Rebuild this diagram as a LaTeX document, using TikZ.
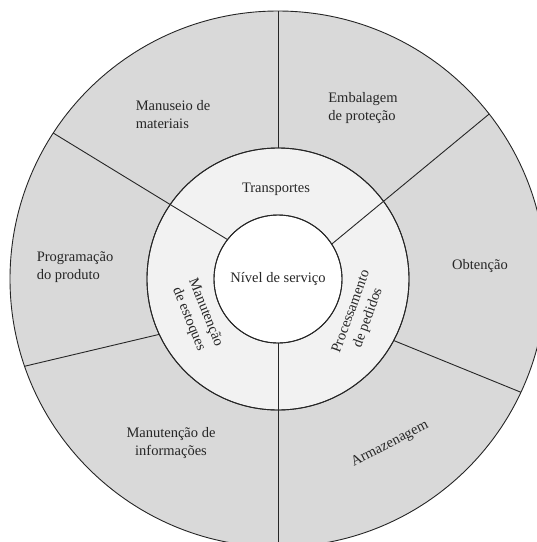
\documentclass[tikz,border=0pt]{standalone}
\usepackage{fontspec}
\setmainfont{Liberation Serif}
\definecolor{outerfill}{HTML}{D9D9D9}
\definecolor{midfill}{HTML}{F2F2F2}
\definecolor{inkline}{HTML}{262626}
\begin{document}
\begin{tikzpicture}[x=1pt,y=1pt,
  disc/.style={circle, draw=inkline, line width=0.9pt, inner sep=0pt, outer sep=0pt},
  divider/.style={draw=inkline, line width=0.9pt},
  lbl/.style={font=\fontsize{14.5}{18}\selectfont, text=black!85, inner sep=0pt}]
\useasboundingbox (0,0) rectangle (537,-542);
\clip (0,0) rectangle (537,-542);
\coordinate (C) at (278,-279);

% three concentric rings
\node[disc, fill=outerfill, minimum size=536pt] (outer) at (C) {};
\node[disc, fill=midfill, minimum size=262pt] (mid) at (C) {};
\node[disc, fill=white, minimum size=128pt, lbl] (core) at (C) {Nível de serviço};

% sector dividers
\draw[divider] (mid.90) -- (outer.90);
\draw[divider] (core.142.6) -- (outer.147.1);
\draw[divider] (mid.205) -- (outer.199.2);
\draw[divider] (core.270) -- (outer.270);
\draw[divider] (mid.332.5) -- (outer.335);
\draw[divider] (core.33.2) -- (outer.38.5);

% redraw ring outlines over the dividers
\draw[inkline, line width=0.9pt] (C) circle (131) (C) circle (64);

% outer ring activities
\node[lbl, align=left] (manuseio) at (173,-115) {Manuseio de\\materiais};
\node[lbl, align=left] (embalagem) at (363,-108) {Embalagem\\de proteção};
\node[lbl] (obtencao) at (480,-266) {Obtenção};
\node[lbl, align=left] (programacao) at (75,-267) {Programação\\do produto};
\node[lbl, align=center] (informacoes) at (171,-443) {Manutenção de\\informações};
\node[lbl, rotate=27] (armazenagem) at (390,-444) {Armazenagem};

% middle ring activities
\node[lbl] (transportes) at (276,-189) {Transportes};
\node[lbl, align=center, rotate=-68] (estoques) at (197,-316) {Manutenção\\de estoques};
\node[lbl, align=center, rotate=70] (pedidos) at (360,-315) {Processamento\\de pedidos};
\end{tikzpicture}
\end{document}
